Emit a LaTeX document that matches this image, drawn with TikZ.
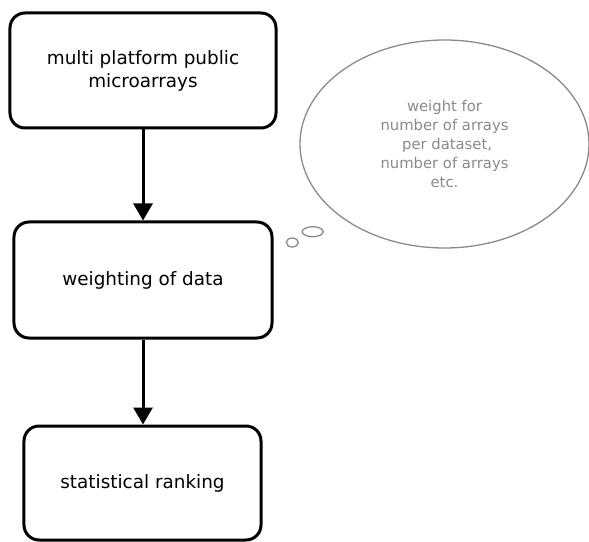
\documentclass[tikz,border=0pt]{standalone}
\usepackage{fontspec}
\setmainfont{DejaVu Sans}
\usetikzlibrary{arrows.meta,shapes.geometric}
\definecolor{thoughtgray}{HTML}{8A8A8A}
\tikzset{
  procbox/.style={draw=black, line width=3bp, rounded corners=15bp, fill=white,
    align=center, inner sep=0pt, font=\fontsize{18.4bp}{23bp}\selectfont},
  flowarrow/.style={draw=black, line width=3bp, -{Triangle[width=19bp,length=17bp]}},
  bubble/.style={draw=thoughtgray, line width=1.3bp, ellipse, inner sep=0pt},
}
\begin{document}
\begin{tikzpicture}[x=1bp,y=-1bp]
\useasboundingbox (0,0) rectangle (589,542);
\node[procbox, minimum width=266bp, minimum height=115bp] (src) at (143,70.5)
  {multi platform public\\microarrays};
\node[procbox, minimum width=258bp, minimum height=116bp] (wgt) at (143,280)
  {weighting of data};
\node[procbox, minimum width=237bp, minimum height=114bp] (rank) at (142.5,483)
  {statistical ranking};
\draw[flowarrow] (src.south) -- (wgt.north);
\draw[flowarrow] (wgt.south) -- (wgt.south |- rank.north);
\node[bubble, minimum width=289bp, minimum height=208bp, align=center,
  text=thoughtgray, font=\fontsize{14.8bp}{19.2bp}\selectfont] (thought) at (444.5,144)
  {weight for\\number of arrays\\\hspace*{0.35em}per dataset,\\number of arrays\\etc.};
\node[bubble, minimum width=12bp, minimum height=9bp] (dot1) at (292.3,242.5) {};
\node[bubble, minimum width=21bp, minimum height=10bp] (dot2) at (312.7,231.7) {};
\end{tikzpicture}
\end{document}
